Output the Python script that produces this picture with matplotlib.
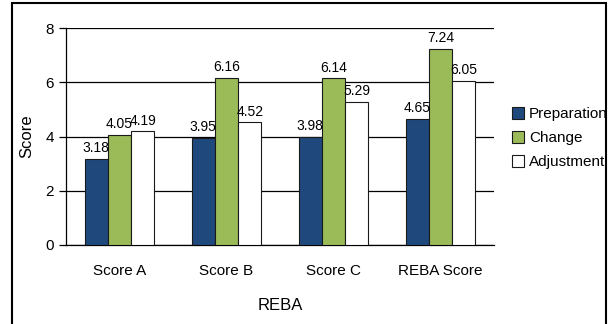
import numpy as np
import matplotlib

matplotlib.use("Agg")
import matplotlib.pyplot as plt
from matplotlib.patches import Rectangle

plt.rcParams["font.family"] = ["Liberation Sans", "DejaVu Sans"]

CATEGORIES = ["Score A", "Score B", "Score C", "REBA Score"]
SERIES = ["Preparation", "Change", "Adjustment"]
PREPARATION = [3.18, 3.95, 3.98, 4.65]
CHANGE = [4.05, 6.16, 6.14, 7.24]
ADJUSTMENT = [4.19, 4.52, 5.29, 6.05]
COLORS = ["#1F497D", "#9BBB59", "#FFFFFF"]

W, H = 613, 324
fig = plt.figure(figsize=(W / 100, H / 100), dpi=100)
ax = fig.add_axes([66 / W, 1 - 245 / H, (494 - 66) / W, (245 - 28) / H])

x = np.arange(len(CATEGORIES))
bw = 0.218
for i, (vals, name, col) in enumerate(zip([PREPARATION, CHANGE, ADJUSTMENT], SERIES, COLORS)):
    pos = x + (i - 1) * bw
    bars = ax.bar(pos, vals, bw, color=col, edgecolor="#1a1a1a", linewidth=0.8,
                  label=name, zorder=3)
    for b, v in zip(bars, vals):
        ax.text(b.get_x() + b.get_width() / 2, v + 0.14, f"{v:.2f}",
                ha="center", va="bottom", fontsize=10, zorder=4)

ax.set_xlim(-0.5, len(CATEGORIES) - 0.5)
ax.set_ylim(0, 8)
ax.set_yticks([0, 2, 4, 6, 8])
ax.yaxis.grid(True, color="black", linewidth=0.9, zorder=0)
ax.set_axisbelow(True)
ax.set_xticks(x)
ax.set_xticklabels(CATEGORIES, fontsize=11)
ax.tick_params(axis="x", length=0, pad=14)
ax.tick_params(axis="y", labelsize=11, length=5, width=0.9, direction="out")
for s in ["top", "right"]:
    ax.spines[s].set_visible(False)
for s in ["left", "bottom"]:
    ax.spines[s].set_linewidth(0.9)
ax.set_ylabel("Score", fontsize=12, labelpad=8)
ax.set_xlabel("REBA", fontsize=12, labelpad=14)

leg = ax.legend(loc="upper left", bbox_to_anchor=(506 / W, 1 - 101 / H),
                bbox_transform=fig.transFigure, frameon=False, fontsize=11,
                handlelength=0.8, handleheight=0.8, handletextpad=0.3,
                labelspacing=0.65, borderaxespad=0)

fig.patches.append(Rectangle((12 / W, -0.05), (606 - 12) / W, 1.05 - 3 / H,
                             transform=fig.transFigure, fill=False,
                             edgecolor="black", linewidth=1.5))

fig.savefig("out.png", dpi=100)
